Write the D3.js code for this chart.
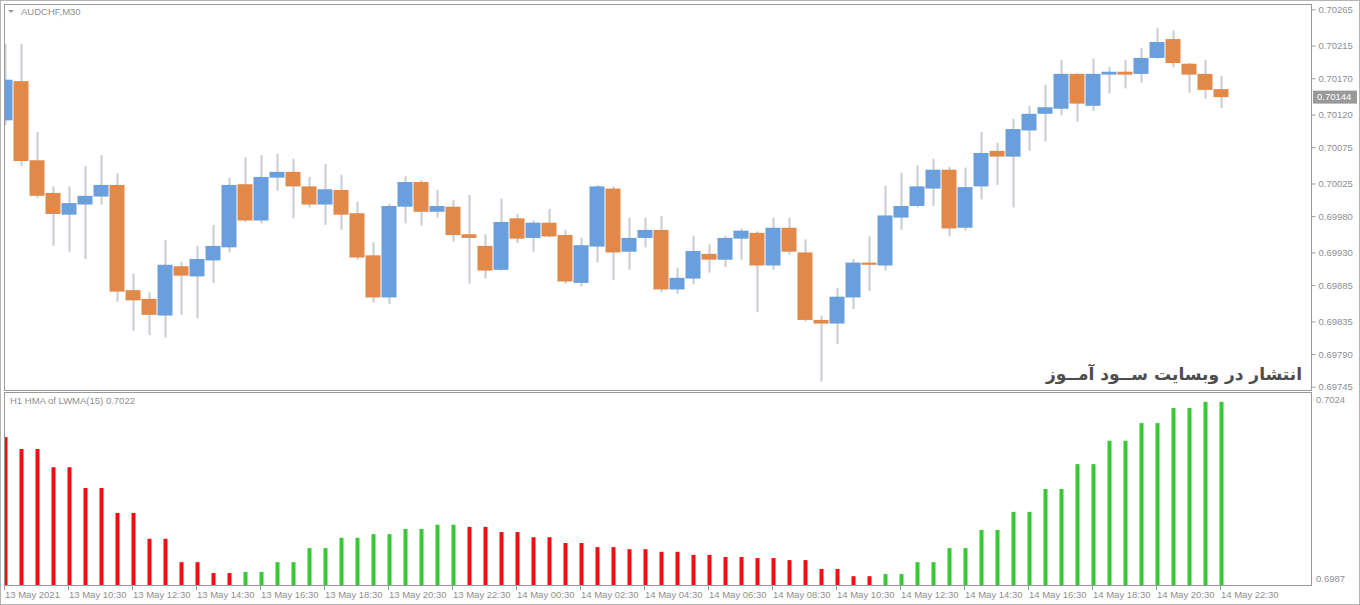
<!DOCTYPE html>
<html><head><meta charset="utf-8">
<script src="https://cdn.jsdelivr.net/npm/d3@7"></script>
<style>html,body{margin:0;padding:0;background:#fff;}svg{display:block;}</style>
</head><body>
<svg id="chart" width="1360" height="605"></svg>
<script>
// ---------- DATA ----------
const symbolTitle = "AUDCHF,M30";
const indicatorTitle = "H1 HMA of LWMA(15) 0.7022";
const watermark = "انتشار در وبسایت ســود آمــوز";

const open  = [0.70112,0.70166,0.70057,0.70012,0.69982,0.69996,0.70007,0.70023,0.69878,0.69866,
               0.69843,0.69911,0.69897,0.69919,0.69937,0.70024,0.69974,0.70033,0.70041,0.70021,
               0.69996,0.70016,0.69984,0.69926,0.69868,0.69993,0.70027,0.69986,0.69993,0.69955,
               0.69939,0.69906,0.69977,0.69950,0.69971,0.69954,0.69888,0.69938,0.70018,0.69931,
               0.69950,0.69961,0.69879,0.69894,0.69928,0.69920,0.69949,0.69957,0.69912,0.69964,
               0.69930,0.69837,0.69832,0.69868,0.69916,0.69912,0.69978,0.69994,0.70018,0.70044,
               0.69964,0.70021,0.70070,0.70062,0.70098,0.70121,0.70128,0.70176,0.70132,0.70175,
               0.70179,0.70176,0.70198,0.70224,0.70190,0.70176,0.70155];
const high  = [0.70217,0.70217,0.70096,0.70021,0.70021,0.70049,0.70064,0.70039,0.69901,0.69875,
               0.69947,0.69917,0.69939,0.69968,0.70033,0.70061,0.70064,0.70066,0.70059,0.70034,
               0.70052,0.70037,0.70000,0.69944,0.69997,0.70035,0.70030,0.70016,0.70002,0.70009,
               0.69955,0.70004,0.69983,0.69974,0.69990,0.69961,0.69950,0.70023,0.70021,0.69978,
               0.69978,0.69980,0.69909,0.69953,0.69941,0.69953,0.69963,0.69959,0.69978,0.69978,
               0.69948,0.69843,0.69881,0.69921,0.69952,0.70022,0.70040,0.70050,0.70059,0.70048,
               0.70047,0.70096,0.70081,0.70114,0.70132,0.70161,0.70195,0.70177,0.70197,0.70186,
               0.70195,0.70212,0.70239,0.70236,0.70191,0.70195,0.70173];
const low   = [0.70106,0.70049,0.70005,0.69939,0.69931,0.69921,0.69996,0.69862,0.69822,0.69816,
               0.69813,0.69844,0.69839,0.69888,0.69930,0.69972,0.69970,0.70015,0.69977,0.69992,
               0.69968,0.69961,0.69920,0.69861,0.69859,0.69970,0.69967,0.69978,0.69945,0.69887,
               0.69894,0.69905,0.69943,0.69931,0.69951,0.69887,0.69883,0.69916,0.69892,0.69906,
               0.69937,0.69875,0.69873,0.69886,0.69902,0.69910,0.69920,0.69848,0.69906,0.69927,
               0.69835,0.69752,0.69804,0.69852,0.69877,0.69905,0.69961,0.69992,0.69994,0.69952,
               0.69960,0.70003,0.70023,0.69992,0.70070,0.70083,0.70119,0.70110,0.70125,0.70149,
               0.70156,0.70164,0.70197,0.70185,0.70150,0.70142,0.70129];
const close = [0.70168,0.70056,0.70008,0.69983,0.69998,0.70008,0.70023,0.69876,0.69864,0.69844,
               0.69913,0.69898,0.69921,0.69939,0.70023,0.69974,0.70034,0.70041,0.70021,0.69996,
               0.70017,0.69982,0.69923,0.69868,0.69994,0.70027,0.69986,0.69994,0.69954,0.69950,
               0.69905,0.69972,0.69949,0.69971,0.69952,0.69890,0.69940,0.70021,0.69930,0.69950,
               0.69961,0.69879,0.69895,0.69932,0.69920,0.69950,0.69960,0.69912,0.69964,0.69931,
               0.69837,0.69832,0.69869,0.69916,0.69913,0.69981,0.69994,0.70021,0.70044,0.69963,
               0.70020,0.70067,0.70062,0.70100,0.70121,0.70130,0.70176,0.70135,0.70176,0.70179,
               0.70175,0.70198,0.70220,0.70191,0.70175,0.70154,0.70144];

const hmaValues = [0.70155,
  0.70132,0.70132,0.70097,0.70097,0.70057,0.70057,0.70009,0.70009,0.69959,0.69959,
  0.69914,0.69914,0.69893,0.69893,0.69895,0.69895,0.69914,0.69914,0.69941,0.69941,
  0.69961,0.69961,0.69968,0.69968,0.69978,0.69978,0.69986,0.69986,0.69982,0.69982,
  0.69972,0.69972,0.69962,0.69962,0.69951,0.69951,0.69943,0.69943,0.69939,0.69939,
  0.69934,0.69934,0.69928,0.69928,0.69924,0.69924,0.69922,0.69922,0.69918,0.69918,
  0.69901,0.69901,0.69887,0.69887,0.69891,0.69891,0.69914,0.69914,0.69941,0.69941,
  0.69976,0.69976,0.70011,0.70011,0.70055,0.70055,0.70103,0.70103,0.70148,0.70148,
  0.70182,0.70182,0.70211,0.70211,0.70223,0.70223];
const hmaTrend = ["down","down","down","down","down","down","down","down","down","down",
  "down","down","down","down","down","up","up","up","up","up",
  "up","up","up","up","up","up","up","up","up","down",
  "down","down","down","down","down","down","down","down","down","down",
  "down","down","down","down","down","down","down","down","down","down",
  "down","down","down","down","down","up","up","up","up","up",
  "up","up","up","up","up","up","up","up","up","up",
  "up","up","up","up","up","up","up"];

const priceTicks = [0.70265,0.70215,0.70170,0.70120,0.70075,0.70025,0.69980,0.69930,0.69885,0.69835,0.69790,0.69745];
const currentPrice = 0.70144;
const hmaScaleLabels = [0.7024, 0.6987];
const timeTickIndex = [0,4,8,12,16,20,24,28,32,36,40,44,48,52,56,60,64,68,72,76];
const timeTickLabels = ["13 May 2021","13 May 10:30","13 May 12:30","13 May 14:30","13 May 16:30",
  "13 May 18:30","13 May 20:30","13 May 22:30","14 May 00:30","14 May 02:30","14 May 04:30",
  "14 May 06:30","14 May 08:30","14 May 10:30","14 May 12:30","14 May 14:30","14 May 16:30",
  "14 May 18:30","14 May 20:30","14 May 22:30"];

// ---------- LAYOUT ----------
const W = 1360, H = 605;
const pLeft = 4, pRight = 1311;
const topY0 = 4, topY1 = 390;
const botY0 = 392, botY1 = 585;
const C = {bull:"#6a9fde", bear:"#e2894a", wick:"#c9ccd1", up:"#33cc33", down:"#ee1111",
           frame:"#9a9a9a", text:"#8f8f8f"};
const font = "'Liberation Sans', Arial, sans-serif";

const svg = d3.select("#chart");
svg.append("rect").attr("width", W).attr("height", H).attr("fill", "#fff");

const n = close.length;
const idx = d3.range(n);
const x = d3.scaleBand().domain(idx).range([-2.5, -2.5 + 16 * n]).padding(0);
const xc = i => x(i) + x.bandwidth() / 2;
const y = d3.scaleLinear().domain([0.69745, 0.70265]).range([386.7, 9.3]);
const yh = d3.scaleLinear().domain([hmaScaleLabels[1], hmaScaleLabels[0]]).range([botY1, botY0 + 1]);

const defs = svg.append("defs");
defs.append("clipPath").attr("id", "clipTop").append("rect")
  .attr("x", pLeft + 1).attr("y", topY0 + 1).attr("width", pRight - pLeft - 1).attr("height", topY1 - topY0 - 1);
defs.append("clipPath").attr("id", "clipBot").append("rect")
  .attr("x", pLeft + 1).attr("y", botY0 + 1).attr("width", pRight - pLeft - 1).attr("height", botY1 - botY0 - 1);

// outer frame
svg.append("rect").attr("x", 0.5).attr("y", 0.5).attr("width", W - 1).attr("height", H - 1)
  .attr("fill", "none").attr("stroke", "#b4b4b4");

// panels
[[topY0, topY1], [botY0, botY1]].forEach(([a, b]) => {
  svg.append("rect").attr("x", pLeft + 0.5).attr("y", a + 0.5).attr("width", pRight - pLeft)
    .attr("height", b - a).attr("fill", "none").attr("stroke", C.frame);
});

// ---------- CANDLES ----------
const gTop = svg.append("g").attr("clip-path", "url(#clipTop)");
gTop.selectAll("rect.wick").data(idx).join("rect").attr("class", "wick")
  .attr("x", i => xc(i) - 1).attr("width", 2)
  .attr("y", i => y(high[i])).attr("height", i => Math.max(1, y(low[i]) - y(high[i])))
  .attr("fill", C.wick);
gTop.selectAll("rect.body").data(idx).join("rect").attr("class", "body")
  .attr("x", i => x(i)).attr("width", x.bandwidth() - 1)
  .attr("y", i => y(Math.max(open[i], close[i])))
  .attr("height", i => Math.max(2, Math.abs(y(open[i]) - y(close[i]))))
  .attr("fill", i => close[i] >= open[i] ? C.bull : C.bear);

// title
svg.append("path").attr("d", "M8,10 L14,10 L11,13 Z").attr("fill", "#9a9a9a");
svg.append("text").attr("x", 21).attr("y", 15).text(symbolTitle)
  .attr("font-family", font).attr("font-size", 9.5).attr("fill", C.text);

// price axis
const yAxis = d3.axisRight(y).tickValues(priceTicks).tickSize(4).tickPadding(3)
  .tickFormat(d3.format(".5f"));
const ga = svg.append("g").attr("transform", `translate(${pRight + 0.5},0)`).call(yAxis);
ga.select(".domain").remove();
ga.selectAll("line").attr("stroke", C.frame);
ga.selectAll("text").attr("font-family", font).attr("font-size", 9.5).attr("fill", C.text);

// current price tag
const cp = svg.append("g").attr("transform", `translate(${pRight + 2},${y(currentPrice)})`);
cp.append("rect").attr("x", 0).attr("y", -6.5).attr("width", 44).attr("height", 13).attr("fill", "#999999");
cp.append("text").attr("x", 4).attr("y", 0).attr("dy", "0.35em").text(d3.format(".5f")(currentPrice))
  .attr("font-family", font).attr("font-size", 9.5).attr("fill", "#fff");

// watermark
svg.append("text").attr("x", 1302).attr("y", 380).attr("text-anchor", "end")
  .attr("font-family", "'DejaVu Sans', sans-serif").attr("font-weight", "bold")
  .attr("font-size", 17).attr("fill", "#4d4d4d").text(watermark);

// ---------- HMA HISTOGRAM ----------
const gBot = svg.append("g").attr("clip-path", "url(#clipBot)");
gBot.selectAll("rect.hma").data(idx).join("rect").attr("class", "hma")
  .attr("x", i => xc(i) - 2).attr("width", 4)
  .attr("y", i => yh(hmaValues[i])).attr("height", i => botY1 - yh(hmaValues[i]))
  .attr("fill", i => hmaTrend[i] === "up" ? C.up : C.down);

svg.append("text").attr("x", 10).attr("y", 404).text(indicatorTitle)
  .attr("font-family", font).attr("font-size", 9.5).attr("fill", C.text);

svg.append("text").attr("x", pRight + 5).attr("y", yh(hmaScaleLabels[0]) + 10)
  .text(d3.format(".4f")(hmaScaleLabels[0]))
  .attr("font-family", font).attr("font-size", 9.5).attr("fill", C.text);
svg.append("text").attr("x", pRight + 5).attr("y", yh(hmaScaleLabels[1]) - 3)
  .text(d3.format(".4f")(hmaScaleLabels[1]))
  .attr("font-family", font).attr("font-size", 9.5).attr("fill", C.text);

// ---------- TIME AXIS ----------
const xTicks = svg.append("g");
xTicks.selectAll("line").data(timeTickIndex).join("line")
  .attr("x1", i => Math.round(xc(i)) - 1.5).attr("x2", i => Math.round(xc(i)) - 1.5)
  .attr("y1", botY1 + 1).attr("y2", botY1 + 5).attr("stroke", C.frame);
xTicks.selectAll("text").data(timeTickIndex).join("text")
  .attr("x", i => xc(i) - 0.5).attr("y", 598)
  .text((d, j) => timeTickLabels[j])
  .attr("font-family", font).attr("font-size", 9.5).attr("fill", C.text);
</script>
</body></html>
